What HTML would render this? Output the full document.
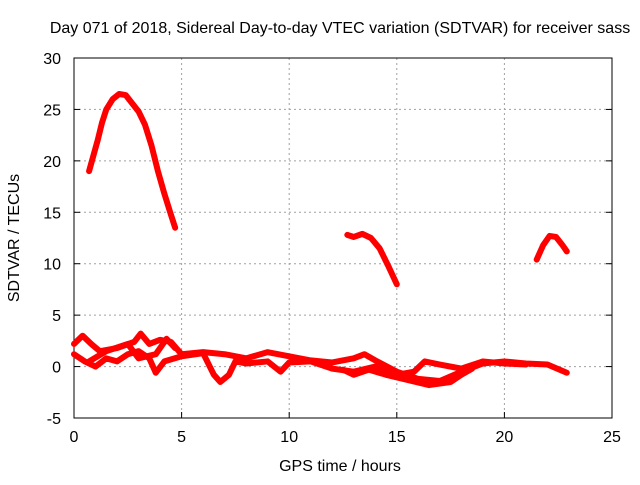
<!DOCTYPE html>
<html><head><meta charset="utf-8"><style>
body{margin:0;background:#fff;font-family:"Liberation Sans",sans-serif}
svg text{font-family:"Liberation Sans",sans-serif;font-size:16px;fill:#000}
</style></head><body>
<svg id="chart" width="640" height="480">
<text x="340" y="33" text-anchor="middle">Day 071 of 2018, Sidereal Day-to-day VTEC variation (SDTVAR) for receiver sass</text>
<g id="grid"></g>
<g id="axes"></g>
<g id="series"></g>
<text x="340" y="471" text-anchor="middle">GPS time / hours</text>
<text transform="translate(19,238) rotate(-90)" text-anchor="middle">SDTVAR / TECUs</text>
</svg>
<script>
const xTicks=[0,5,10,15,20,25];
const yTicks=[-5,0,5,10,15,20,25,30];
const traceA=[[0.7,19],[0.9,20.5],[1.1,22],[1.3,23.7],[1.5,25],[1.8,26],[2.1,26.5],[2.4,26.4],[2.7,25.6],[3.0,24.8],[3.3,23.5],[3.6,21.5],[3.9,19],[4.2,16.8],[4.5,14.8],[4.7,13.5]];
const traceB=[[12.7,12.8],[13.0,12.6],[13.4,12.9],[13.8,12.5],[14.2,11.5],[14.6,9.8],[15.0,8.0]];
const traceC=[[21.5,10.4],[21.8,11.8],[22.1,12.7],[22.4,12.6],[22.7,11.8],[22.9,11.2]];
const traceD=[[0,2.2],[0.4,3.0],[0.8,2.2],[1.2,1.5],[2,1.8],[2.8,2.4],[3.1,3.2],[3.5,2.2],[4.0,2.6],[4.5,2.4],[5,1.2],[6,1.4],[7,1.2],[8,0.8],[9,1.4],[10,1.0],[11,0.6],[12,0.4],[13,0.8],[13.5,1.2],[14,0.6],[15,-0.5],[16,-1.2],[17,-1.4],[18,-0.5],[19,0.3],[20,0.5],[21,0.3],[22,0.2],[22.9,-0.6]];
const traceE=[[0,1.2],[0.5,0.5],[1,0],[1.5,0.8],[2,0.5],[2.5,1.2],[3,1.5],[3.5,0.8],[3.8,-0.6],[4.2,0.5],[5,1],[6,1.3],[6.5,-0.8],[6.8,-1.5],[7.2,-0.8],[7.5,0.5],[8,0.3],[9,0.5],[9.6,-0.5],[10,0.4],[11,0.5],[12,-0.2],[13,-0.5],[14,0],[15,-0.8],[15.8,-0.5],[16.3,0.5],[17,0.2],[18,-0.2],[19,0.5],[20,0.3],[21,0.2]];
const traceF=[[12.5,-0.3],[13,-0.8],[13.7,-0.3],[14.5,-0.8],[15.5,-1.3],[16.5,-1.8],[17.5,-1.5],[18,-0.8],[18.5,-0.2]];
const traceG=[[0.7,0.5],[1.5,1.5],[2.5,2.2],[3,0.8],[3.8,1.2],[4.3,2.7],[4.7,1.8]];
const traces=[traceA,traceB,traceC,traceD,traceE,traceF,traceG];

const NS="http://www.w3.org/2000/svg";
const L=74,R=612,T=58,B=418;
const xs=t=>L+(t-0)/(25-0)*(R-L);
const ys=v=>B-(v+5)/(30+5)*(B-T);
function mk(tag,attrs,parent){const e=document.createElementNS(NS,tag);for(const k in attrs)e.setAttribute(k,attrs[k]);parent.appendChild(e);return e;}
const grid=document.getElementById('grid'),axes=document.getElementById('axes'),ser=document.getElementById('series');
xTicks.forEach(t=>{
  const x=xs(t);
  if(t>0&&t<25){const g=mk('line',{x1:x,x2:x,y1:T,y2:B,stroke:'#a0a0a0','stroke-dasharray':'2,3'},grid);
  
  }
  const tk=mk('line',{x1:x,x2:x,y1:B,y2:B-6,stroke:'#000'},axes);
  
  
  const tx=mk('text',{x:x,y:B+24,'text-anchor':'middle'},axes);tx.textContent=t;
  
  
});
yTicks.forEach(v=>{
  const y=ys(v);
  if(v>-5&&v<30){const g=mk('line',{x1:L,x2:R,y1:y,y2:y,stroke:'#a0a0a0','stroke-dasharray':'2,3'},grid);
  
  }
  const tk=mk('line',{x1:L,x2:L+6,y1:y,y2:y,stroke:'#000'},axes);
  
  
  const tk2=mk('line',{x1:R,x2:R-6,y1:y,y2:y,stroke:'#000'},axes);
  
  
  const tx=mk('text',{x:L-13,y:y+6,'text-anchor':'end'},axes);tx.textContent=v;
  
  
});
const fr=mk('rect',{x:L,y:T,width:R-L,height:B-T,fill:'none',stroke:'#000'},axes);


traces.forEach(tr=>{
  const p=mk('polyline',{points:tr.map(d=>xs(d[0])+','+ys(d[1])).join(' '),fill:'none',stroke:'#f00','stroke-width':6,'stroke-linejoin':'round','stroke-linecap':'round'},ser);
  
  
});
</script>
</body></html>
